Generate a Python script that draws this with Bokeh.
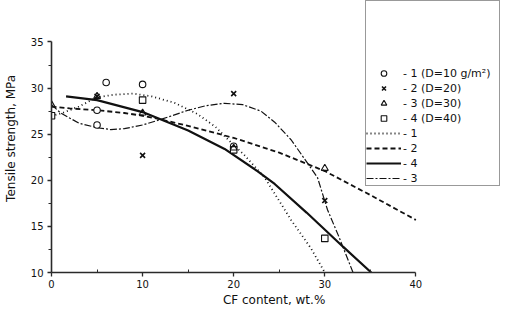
from bokeh.plotting import figure
from bokeh.models import Range1d, Legend, LegendItem, FixedTicker
from bokeh.embed import file_html
from bokeh.resources import INLINE

# ---- data ----
# measured points (markers)
x_s1 = [5, 5, 6, 10, 20]
y_s1 = [27.6, 26.0, 30.6, 30.4, 23.7]
x_s2 = [5, 10, 20, 30]
y_s2 = [29.1, 22.7, 29.4, 17.8]
x_s3 = [0, 5, 10, 20, 30]
y_s3 = [28.2, 29.1, 27.3, 23.5, 21.3]
x_s4 = [0, 10, 20, 30]
y_s4 = [27.0, 28.7, 23.3, 13.7]

# fitted curves
x_c1 = [0, 1.2, 3, 5, 7, 9, 11, 13.5, 16, 18, 19.5, 21.2, 23.4, 26.3, 28.5, 30]
y_c1 = [27.0, 27.3, 28.0, 29.0, 29.3, 29.4, 29.1, 28.4, 27.2, 25.8, 24.3, 22.7, 20.3, 15.7, 12.6, 10.0]
x_c2 = [0, 2, 5, 8, 10, 12, 15, 20, 25, 30, 35, 40]
y_c2 = [28.0, 27.8, 27.6, 27.3, 27.0, 26.6, 25.9, 24.6, 23.0, 21.0, 18.4, 15.7]
x_c4 = [1.6, 5, 10, 15, 19, 22.6, 24.5, 28, 32, 35.1]
y_c4 = [29.1, 28.7, 27.4, 25.4, 23.4, 21.0, 19.6, 16.5, 12.8, 10.0]
x_c3 = [0, 1, 3, 5, 6.5, 8, 10, 12, 15, 17, 19, 21, 23, 24.5, 26.3, 28.5, 29.2, 30.3, 31.5, 33.1]
y_c3 = [28.2, 27.3, 26.2, 25.7, 25.5, 25.6, 26.0, 26.6, 27.6, 28.1, 28.35, 28.2, 27.5, 26.3, 24.4, 21.3, 20.3, 16.8, 14.0, 10.0]

x_ticks = [0, 10, 20, 30, 40]
x_minor = [5, 15, 25, 35]
y_ticks = [10, 15, 20, 25, 30, 35]
y_minor = [12.5, 17.5, 22.5, 27.5, 32.5]

marker_labels = ["- 1 (D=10 g/m\u00b2)", "- 2 (D=20)", "- 3 (D=30)", "- 4 (D=40)"]
line_labels = ["- 1", "- 2", "- 4", "- 3"]
x_title = "CF content,  wt.%"
y_title = "Tensile strength,  MPa"

FONT = "DejaVu Sans"
INK = "#111111"

p = figure(width=500, height=309, output_backend="svg", toolbar_location=None,
           x_range=Range1d(0, 49.29), y_range=Range1d(10, 39.5),
           min_border_left=48, min_border_right=0, min_border_top=0, min_border_bottom=36)
p.outline_line_color = None
p.grid.visible = False
p.background_fill_color = "white"
p.border_fill_color = "white"

# axes
p.xaxis.bounds = (0, 40)
p.yaxis.bounds = (10, 35)
p.xaxis.ticker = FixedTicker(ticks=x_ticks, minor_ticks=x_minor)
p.yaxis.ticker = FixedTicker(ticks=y_ticks, minor_ticks=y_minor)
for ax in (p.xaxis, p.yaxis):
    ax.axis_line_color = "#2a2a2a"
    ax.axis_line_width = 1.6
    ax.major_tick_line_color = "#2a2a2a"
    ax.major_tick_line_width = 1.3
    ax.minor_tick_line_color = "#2a2a2a"
    ax.major_tick_out = 4
    ax.major_tick_in = 0
    ax.major_label_text_font = FONT
    ax.major_label_text_font_size = "10px"
    ax.major_label_text_color = INK
    ax.axis_label_text_font = FONT
    ax.axis_label_text_font_size = "12px"
    ax.axis_label_text_font_style = "normal"
    ax.axis_label_text_color = INK
p.xaxis.minor_tick_in = 3
p.xaxis.minor_tick_out = 0
p.yaxis.minor_tick_in = 0
p.yaxis.minor_tick_out = 3
p.xaxis.major_label_standoff = 3
p.xaxis.axis_label_standoff = 2
p.yaxis.major_label_standoff = 4
p.yaxis.axis_label_standoff = 10
p.xaxis.axis_label = x_title
p.yaxis.axis_label = y_title

# curves
r_c1 = p.line(x_c1, y_c1, line_color=INK, line_width=1.8, line_dash="1 3")
r_c2 = p.line(x_c2, y_c2, line_color=INK, line_width=1.8, line_dash="5 3")
r_c4 = p.line(x_c4, y_c4, line_color=INK, line_width=2.2)
r_c3 = p.line(x_c3, y_c3, line_color=INK, line_width=1.2, line_dash="7 2 2 2")

# markers
r_s1 = p.scatter(x_s1, y_s1, marker="circle", size=6.5, fill_color="white", line_color=INK, line_width=1.1)
r_s4 = p.scatter(x_s4, y_s4, marker="square", size=6.5, fill_color="white", line_color=INK, line_width=1.1)
r_s3 = p.scatter(x_s3, y_s3, marker="triangle", size=7, fill_color=None, line_color=INK, line_width=1.1)
r_s2 = p.scatter(x_s2, y_s2, marker="x", size=7, line_color=INK, line_width=1.6)

items = [LegendItem(label=lab, renderers=[r]) for lab, r in zip(marker_labels, [r_s1, r_s2, r_s3, r_s4])]
items += [LegendItem(label=lab, renderers=[r]) for lab, r in zip(line_labels, [r_c1, r_c2, r_c4, r_c3])]

legend = Legend(items=items, location="top_right", padding=0, margin=0, spacing=1,
                glyph_width=35, glyph_height=14, label_height=14, label_width=96, label_standoff=2,
                label_text_font=FONT, label_text_font_size="11px", label_text_color=INK,
                title=" ", title_text_font_size="12px", title_standoff=51,
                border_line_color="#333333", border_line_width=1.2,
                background_fill_color="white", background_fill_alpha=1.0)
p.add_layout(legend, "center")

open("out.html", "w").write(file_html(p, INLINE))
